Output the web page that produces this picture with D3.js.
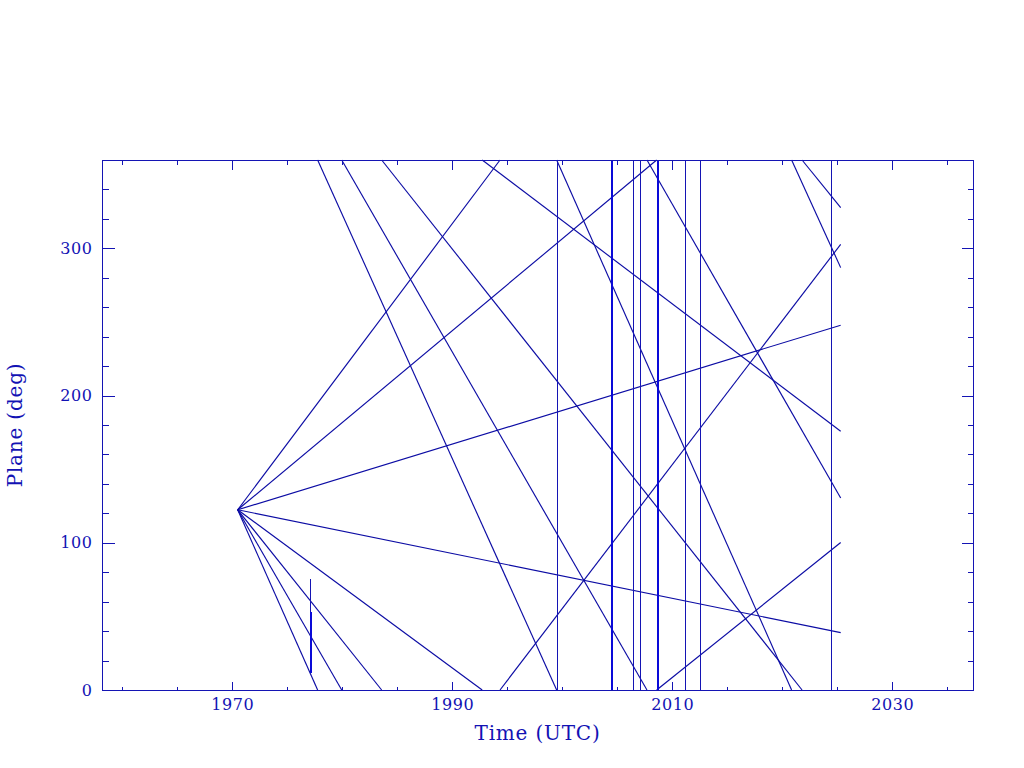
<!DOCTYPE html>
<html>
<head>
<meta charset="utf-8">
<script src="https://cdn.jsdelivr.net/npm/d3@7"></script>
<style>
  html, body { margin: 0; padding: 0; background: #ffffff; }
  svg { display: block; }
  text { font-family: "DejaVu Serif", "Liberation Serif", serif; fill: #1212b4; }
</style>
</head>
<body>
<svg id="chart" width="1024" height="768"></svg>
<script>
// ---- data ----
const xTickLabels = [1970, 1990, 2010, 2030];
const yTickLabels = [0, 100, 200, 300];
const xDomain = [1958.155, 2037.34];
const yDomain = [0, 360];

// sloped tracks, split where they wrap past 0/360 deg: [t0, p0, t1, p1]
const tracks = [
  [1970.49, 122.4, 1994.34, 360], [1994.34, 0, 2025.31, 302.7],
  [1970.49, 122.4, 2008.58, 360], [2008.58, 0, 2025.31, 100.2],
  [1970.49, 122.4, 2025.31, 247.8],
  [1970.49, 122.4, 2025.31, 39.0],
  [1970.49, 122.4, 1992.72, 0], [1992.72, 360, 2025.31, 175.7],
  [1970.49, 122.4, 1983.58, 0], [1983.58, 360, 2021.8, 0], [2021.8, 360, 2025.31, 327.7],
  [1970.49, 122.4, 1979.95, 0], [1979.95, 360, 2007.7, 0], [2007.7, 360, 2025.31, 130.4],
  [1970.49, 122.4, 1977.76, 0], [1977.76, 360, 1999.49, 0], [1999.49, 360, 2020.85, 0], [2020.85, 360, 2025.31, 286.9]
];

// full-height event markers (years) and which are bold
const eventTimes = [1999.49, 2004.43, 2006.40, 2007.09, 2008.58, 2011.18, 2012.55, 2024.40];
const eventBold  = [false, true, false, false, true, false, false, false];

// short marker: [time, p0, p1]
const shortMarkers = [[1977.06, 11.4, 75.3]];
const shortMarkersBold = [[1977.06, 11.4, 53.3]];

// ---- drawing ----
const svg = d3.select("#chart");
const mLeft = 102, mRight = 973, mTop = 160, mBottom = 690;
const x = d3.scaleLinear().domain(xDomain).range([mLeft, mRight]);
const y = d3.scaleLinear().domain(yDomain).range([mBottom, mTop]);
const lineColor = "#1414b4";
const boldColor = "#0a0ad8";

const plot = svg.append("g");

// sloped tracks
plot.selectAll("line.track").data(tracks).join("line")
  .attr("class", "track")
  .attr("x1", d => x(d[0])).attr("y1", d => y(d[1]))
  .attr("x2", d => x(d[2])).attr("y2", d => y(d[3]))
  .attr("stroke", "#0c0ca4").attr("stroke-width", 1.15);

// event verticals
plot.selectAll("line.event").data(eventTimes).join("line")
  .attr("class", "event")
  .attr("x1", d => Math.round(x(d)) + 0.5).attr("x2", d => Math.round(x(d)) + 0.5)
  .attr("y1", y(yDomain[0])).attr("y2", y(yDomain[1]))
  .attr("stroke", (d, i) => eventBold[i] ? boldColor : lineColor)
  .attr("stroke-width", (d, i) => eventBold[i] ? 2 : 1)
  .attr("shape-rendering", "crispEdges");

plot.selectAll("line.short").data(shortMarkers).join("line")
  .attr("class", "short")
  .attr("x1", d => Math.round(x(d[0])) + 0.5).attr("x2", d => Math.round(x(d[0])) + 0.5)
  .attr("y1", d => y(d[1])).attr("y2", d => y(d[2]))
  .attr("stroke", lineColor).attr("stroke-width", 1)
  .attr("shape-rendering", "crispEdges");
plot.selectAll("line.shortb").data(shortMarkersBold).join("line")
  .attr("class", "shortb")
  .attr("x1", d => Math.round(x(d[0])) + 0.5).attr("x2", d => Math.round(x(d[0])) + 0.5)
  .attr("y1", d => y(d[1])).attr("y2", d => y(d[2]))
  .attr("stroke", boldColor).attr("stroke-width", 2)
  .attr("shape-rendering", "crispEdges");

// frame
svg.append("rect")
  .attr("x", mLeft + 0.5).attr("y", mTop + 0.5)
  .attr("width", mRight - mLeft).attr("height", mBottom - mTop)
  .attr("fill", "none").attr("stroke", lineColor).attr("stroke-width", 1)
  .attr("shape-rendering", "crispEdges");

// axes with inward ticks (major + minor) on all four sides
const xMinor = d3.range(1960, 2037, 5).filter(v => !xTickLabels.includes(v));
const yMinor = d3.range(20, 360, 20).filter(v => !yTickLabels.includes(v));

function styleAxis(g) {
  g.select(".domain").remove();
  g.selectAll(".tick line").attr("stroke", lineColor).attr("shape-rendering", "crispEdges");
  g.selectAll("text").attr("fill", "#1212b4")
    .style("font-family", '"DejaVu Serif", "Liberation Serif", serif')
    .style("font-size", "16px").style("letter-spacing", "0.6px");
}

// bottom
svg.append("g").attr("transform", `translate(0,${mBottom + 0.5})`)
  .call(d3.axisBottom(x).tickValues(xTickLabels).tickSize(-9).tickPadding(8).tickFormat(d3.format("d")))
  .call(styleAxis);
svg.append("g").attr("transform", `translate(0,${mBottom + 0.5})`)
  .call(d3.axisBottom(x).tickValues(xMinor).tickSize(-4).tickFormat(""))
  .call(styleAxis);
// top
svg.append("g").attr("transform", `translate(0,${mTop + 0.5})`)
  .call(d3.axisTop(x).tickValues(xTickLabels).tickSize(-9).tickFormat(""))
  .call(styleAxis);
svg.append("g").attr("transform", `translate(0,${mTop + 0.5})`)
  .call(d3.axisTop(x).tickValues(xMinor).tickSize(-4).tickFormat(""))
  .call(styleAxis);
// left
svg.append("g").attr("transform", `translate(${mLeft + 0.5},0)`)
  .call(d3.axisLeft(y).tickValues(yTickLabels).tickSize(-12).tickPadding(10).tickFormat(d3.format("d")))
  .call(styleAxis);
svg.append("g").attr("transform", `translate(${mLeft + 0.5},0)`)
  .call(d3.axisLeft(y).tickValues(yMinor).tickSize(-6).tickFormat(""))
  .call(styleAxis);
// right
svg.append("g").attr("transform", `translate(${mRight + 0.5},0)`)
  .call(d3.axisRight(y).tickValues(yTickLabels).tickSize(-12).tickFormat(""))
  .call(styleAxis);
svg.append("g").attr("transform", `translate(${mRight + 0.5},0)`)
  .call(d3.axisRight(y).tickValues(yMinor).tickSize(-6).tickFormat(""))
  .call(styleAxis);

// axis titles
svg.append("text")
  .attr("x", (mLeft + mRight) / 2).attr("y", 740)
  .attr("text-anchor", "middle")
  .style("font-size", "20px").style("letter-spacing", "0.8px")
  .text("Time (UTC)");
svg.append("text")
  .attr("transform", `translate(22,${(mTop + mBottom) / 2}) rotate(-90)`)
  .attr("text-anchor", "middle")
  .style("font-size", "20px").style("letter-spacing", "0.8px")
  .text("Plane (deg)");
</script>
</body>
</html>
